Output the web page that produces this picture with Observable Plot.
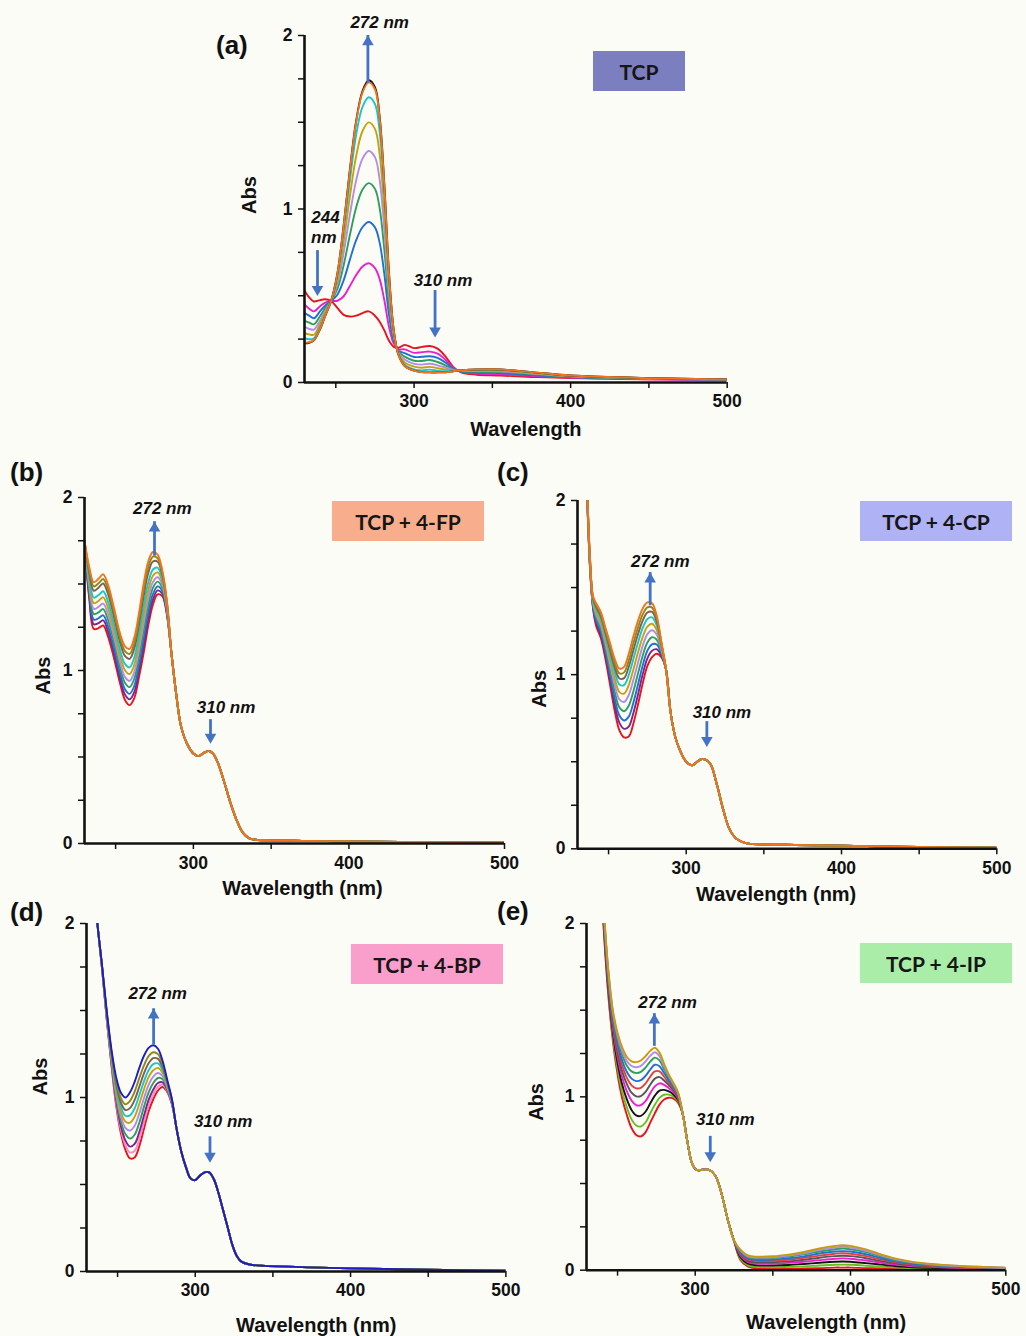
<!DOCTYPE html>
<html><head><meta charset="utf-8">
<script src="https://cdn.jsdelivr.net/npm/d3@7"></script>
<script src="https://cdn.jsdelivr.net/npm/@observablehq/plot@0.6"></script>
<style>
html,body{margin:0;padding:0;background:#fcfcf7;}
#page{position:relative;width:1026px;height:1336px;background:#fcfcf7;overflow:hidden;font-family:"Liberation Sans",Arial,sans-serif;}
#page svg{position:absolute;}
.plabel{position:absolute;font-weight:bold;font-size:26px;line-height:26px;color:#111;}
.box{position:absolute;display:flex;align-items:center;justify-content:center;font-family:Lato,"Open Sans",sans-serif;font-weight:700;font-size:21px;color:#161616;}
</style></head><body><div id="page"></div>
<script>
// ---------- axes ----------
const xTicks = [250, 300, 350, 400, 450, 500];
const xTickLabels = [300, 400, 500];
const yTicks = [0, 0.25, 0.5, 0.75, 1, 1.25, 1.5, 1.75, 2];
const yTickLabels = [0, 1, 2];

// ---------- panel (a) TCP ----------
const wlA = [230,233,236,240,243,247,251,255,259,263,267,271,275,278,281,284,287,290,294,300,305,310,315,320,325,330,340,355,375,400,450,500];
const aRed      = [0.53,0.49,0.467,0.475,0.48,0.47,0.43,0.39,0.38,0.385,0.40,0.41,0.385,0.35,0.30,0.24,0.205,0.20,0.217,0.198,0.205,0.21,0.195,0.15,0.09,0.058,0.045,0.04,0.032,0.025,0.018,0.015];
const aMagenta  = [0.45,0.425,0.41,0.44,0.459,0.47,0.471,0.497,0.556,0.619,0.667,0.687,0.659,0.596,0.474,0.32,0.225,0.192,0.191,0.171,0.175,0.178,0.166,0.131,0.085,0.061,0.051,0.047,0.038,0.028,0.019,0.016];
const aBlue     = [0.40,0.385,0.37,0.411,0.441,0.47,0.506,0.589,0.708,0.82,0.895,0.925,0.894,0.806,0.624,0.388,0.242,0.184,0.169,0.147,0.148,0.151,0.142,0.115,0.08,0.063,0.057,0.054,0.043,0.031,0.021,0.016];
const aGreen    = [0.355,0.345,0.335,0.383,0.424,0.47,0.539,0.676,0.85,1.009,1.111,1.149,1.116,1.005,0.765,0.453,0.258,0.178,0.149,0.125,0.124,0.13,0.118,0.099,0.076,0.065,0.062,0.06,0.048,0.033,0.022,0.017];
const aLavender = [0.32,0.309,0.305,0.359,0.41,0.47,0.567,0.747,0.968,1.165,1.289,1.334,1.299,1.169,0.881,0.506,0.272,0.172,0.132,0.107,0.103,0.108,0.099,0.086,0.072,0.066,0.066,0.065,0.052,0.036,0.023,0.017];
const aGold     = [0.285,0.277,0.275,0.339,0.397,0.47,0.591,0.811,1.073,1.305,1.448,1.499,1.462,1.315,0.985,0.554,0.283,0.167,0.116,0.091,0.085,0.09,0.082,0.075,0.069,0.068,0.07,0.069,0.055,0.037,0.024,0.018];
const aCyan     = [0.255,0.249,0.255,0.321,0.386,0.47,0.612,0.867,1.165,1.428,1.587,1.644,1.605,1.444,1.076,0.595,0.294,0.163,0.103,0.076,0.07,0.074,0.067,0.065,0.067,0.069,0.073,0.073,0.058,0.039,0.025,0.018];
const aBlack    = [0.226,0.229,0.243,0.308,0.378,0.47,0.628,0.905,1.228,1.508,1.678,1.742,1.702,1.532,1.142,0.63,0.303,0.16,0.095,0.068,0.06,0.058,0.058,0.059,0.065,0.07,0.075,0.075,0.06,0.04,0.025,0.018];
const aOrange   = [0.23,0.232,0.245,0.31,0.38,0.47,0.625,0.90,1.22,1.50,1.67,1.73,1.69,1.52,1.13,0.62,0.30,0.16,0.095,0.068,0.06,0.058,0.058,0.059,0.065,0.07,0.075,0.075,0.06,0.04,0.025,0.018];

// ---------- panel (b) TCP + 4-FP ----------
const wlBHead = [230,233,236,239,242,245,249,253,256,259,262,265,268,271,274,277,280,283];
const wlBTail = [286,289,292,296,300,303,307,310,313,316,320,324,328,332,336,340,350,370,400,450,500];
const bTail     = [1.09,0.86,0.68,0.575,0.52,0.505,0.525,0.535,0.515,0.46,0.35,0.23,0.13,0.06,0.03,0.022,0.018,0.015,0.012,0.008,0.005];
const bRed      = [1.75,1.42,1.24,1.245,1.26,1.20,1.07,0.92,0.83,0.80,0.84,0.96,1.10,1.26,1.38,1.44,1.43,1.32];
const bPurple   = [1.75,1.438,1.267,1.274,1.29,1.23,1.099,0.949,0.861,0.833,0.875,0.997,1.14,1.297,1.411,1.463,1.445,1.328];
const bBlue     = [1.75,1.456,1.294,1.302,1.319,1.26,1.128,0.978,0.892,0.865,0.91,1.034,1.18,1.334,1.441,1.486,1.46,1.336];
const bGreen    = [1.75,1.478,1.326,1.336,1.355,1.296,1.163,1.013,0.929,0.904,0.952,1.078,1.228,1.378,1.478,1.514,1.478,1.346];
const bLavender = [1.75,1.497,1.356,1.368,1.387,1.329,1.195,1.045,0.963,0.94,0.991,1.119,1.272,1.419,1.511,1.539,1.495,1.354];
const bGold     = [1.75,1.519,1.389,1.402,1.423,1.365,1.23,1.08,1.001,0.979,1.033,1.164,1.32,1.464,1.548,1.567,1.513,1.364];
const bCyan     = [1.75,1.541,1.421,1.436,1.458,1.401,1.264,1.114,1.038,1.018,1.075,1.208,1.368,1.508,1.584,1.594,1.53,1.374];
const bBrown    = [1.75,1.568,1.461,1.479,1.503,1.446,1.308,1.158,1.084,1.067,1.127,1.263,1.428,1.563,1.63,1.629,1.553,1.386];
const bOlive    = [1.75,1.584,1.486,1.504,1.529,1.473,1.334,1.184,1.112,1.096,1.159,1.297,1.464,1.597,1.658,1.649,1.567,1.393];
const bOrange   = [1.75,1.60,1.51,1.53,1.556,1.50,1.36,1.21,1.14,1.125,1.19,1.33,1.50,1.63,1.685,1.67,1.58,1.40];

// ---------- panel (c) TCP + 4-CP ----------
const wlCHead = [234,236,238,240,242,245,248,251,254,257,260,263,266,269,272,275,278,281,284,287];
const wlCTail = [290,293,296,300,304,307,310,313,316,320,324,328,332,336,340,350,370,400,450,500];
const cTail     = [0.78,0.64,0.565,0.50,0.48,0.50,0.515,0.51,0.48,0.36,0.22,0.11,0.06,0.04,0.03,0.025,0.022,0.018,0.01,0.006];
const cRed      = [2.40,2.05,1.62,1.38,1.28,1.21,1.09,0.94,0.79,0.68,0.64,0.645,0.72,0.83,0.95,1.05,1.10,1.12,1.10,1.03];
const cPurple   = [2.40,2.056,1.627,1.388,1.296,1.228,1.112,0.969,0.826,0.723,0.689,0.702,0.78,0.888,1.002,1.094,1.137,1.146,1.111,1.03];
const cBlue     = [2.40,2.062,1.634,1.397,1.311,1.246,1.133,0.998,0.862,0.765,0.737,0.759,0.84,0.945,1.053,1.138,1.174,1.173,1.122,1.03];
const cGreen    = [2.40,2.069,1.642,1.406,1.328,1.266,1.157,1.029,0.901,0.811,0.79,0.821,0.905,1.008,1.109,1.185,1.215,1.201,1.133,1.03];
const cLavender = [2.40,2.075,1.65,1.415,1.345,1.285,1.18,1.06,0.94,0.858,0.843,0.883,0.97,1.07,1.165,1.233,1.255,1.23,1.145,1.03];
const cGold     = [2.40,2.081,1.657,1.423,1.361,1.303,1.202,1.089,0.976,0.90,0.891,0.94,1.03,1.128,1.217,1.276,1.292,1.256,1.156,1.03];
const cCyan     = [2.40,2.087,1.664,1.432,1.376,1.321,1.223,1.118,1.012,0.943,0.94,0.997,1.09,1.185,1.268,1.32,1.329,1.283,1.167,1.03];
const cBrown    = [2.40,2.092,1.67,1.439,1.389,1.336,1.241,1.142,1.042,0.978,0.98,1.044,1.14,1.233,1.311,1.357,1.36,1.305,1.176,1.03];
const cOlive    = [2.40,2.096,1.675,1.444,1.40,1.348,1.256,1.161,1.066,1.007,1.013,1.082,1.18,1.272,1.346,1.386,1.385,1.322,1.183,1.03];
const cOrange   = [2.40,2.10,1.68,1.45,1.41,1.36,1.27,1.18,1.09,1.035,1.045,1.12,1.22,1.31,1.38,1.415,1.41,1.34,1.19,1.03];

// ---------- panel (d) TCP + 4-BP ----------
const wlDHead = [234,237,240,243,246,249,252,255,258,261,264,267,270,273,276,279,282,285];
const wlDTail = [288,291,294,297,300,303,306,309,312,315,318,321,324,327,330,335,345,360,380,400,450,500];
const dTail     = [0.82,0.69,0.60,0.535,0.525,0.55,0.57,0.57,0.53,0.45,0.35,0.25,0.15,0.085,0.055,0.04,0.032,0.028,0.022,0.018,0.01,0.005];
const dRed      = [2.30,2.00,1.74,1.45,1.19,0.96,0.80,0.70,0.65,0.655,0.72,0.82,0.92,0.99,1.04,1.06,1.03,0.96];
const dPink     = [2.30,2.00,1.742,1.455,1.198,0.974,0.821,0.727,0.684,0.694,0.761,0.858,0.953,1.018,1.062,1.074,1.036,0.963];
const dPurple   = [2.30,2.00,1.744,1.459,1.206,0.989,0.841,0.754,0.718,0.733,0.801,0.896,0.986,1.046,1.083,1.087,1.043,0.965];
const dGreen    = [2.30,2.00,1.746,1.465,1.217,1.008,0.869,0.79,0.764,0.786,0.855,0.946,1.03,1.083,1.112,1.105,1.051,0.969];
const dLavender = [2.30,2.00,1.748,1.471,1.228,1.027,0.897,0.826,0.81,0.838,0.909,0.996,1.073,1.12,1.141,1.123,1.059,0.973];
const dGold     = [2.30,2.00,1.751,1.477,1.239,1.046,0.924,0.862,0.855,0.89,0.963,1.047,1.117,1.157,1.17,1.141,1.068,0.976];
const dCyan     = [2.30,2.00,1.753,1.483,1.249,1.064,0.95,0.895,0.897,0.938,1.013,1.093,1.157,1.192,1.196,1.158,1.076,0.98];
const dBrown    = [2.30,2.00,1.755,1.488,1.258,1.082,0.975,0.928,0.939,0.986,1.062,1.139,1.197,1.226,1.222,1.174,1.083,0.983];
const dOlive    = [2.30,2.00,1.757,1.494,1.268,1.099,1.0,0.961,0.981,1.034,1.112,1.185,1.238,1.26,1.249,1.191,1.091,0.986];
const dNavy     = [2.30,2.00,1.76,1.50,1.28,1.12,1.03,1.00,1.03,1.09,1.17,1.24,1.285,1.30,1.28,1.21,1.10,0.99];

// ---------- panel (e) TCP + 4-IP ----------
const wlEHead = [238,241,244,247,250,253,256,259,262,265,268,271,274,277,280,283,286,289,292];
const wlEMid  = [295,298,301,305,309,313,317,321,325];
const wlETail = [329,334,340,350,360,370,380,390,395,400,410,420,430,440,450,470,500];
const eMid = [0.74,0.615,0.578,0.58,0.578,0.545,0.44,0.29,0.17];
const eRedH      = [2.50,1.98,1.59,1.32,1.13,0.99,0.895,0.82,0.78,0.772,0.795,0.85,0.905,0.955,0.985,0.995,0.99,0.965,0.90];
const eLimeH     = [2.507,1.996,1.61,1.343,1.161,1.028,0.939,0.87,0.835,0.829,0.852,0.904,0.954,0.994,1.012,1.013,1.002,0.973,0.90];
const eBlackH    = [2.514,2.012,1.631,1.369,1.195,1.07,0.985,0.924,0.893,0.89,0.914,0.962,1.007,1.036,1.04,1.031,1.014,0.981,0.90];
const eMagentaH  = [2.52,2.029,1.652,1.394,1.228,1.111,1.032,0.978,0.952,0.952,0.975,1.02,1.06,1.078,1.069,1.05,1.027,0.99,0.90];
const eGrayH     = [2.527,2.044,1.67,1.415,1.257,1.146,1.073,1.024,1.003,1.004,1.028,1.07,1.105,1.114,1.094,1.067,1.038,0.997,0.90];
const eRed2H     = [2.532,2.057,1.686,1.435,1.284,1.179,1.109,1.066,1.049,1.052,1.077,1.116,1.147,1.147,1.116,1.081,1.048,1.003,0.90];
const eBlueH     = [2.537,2.069,1.701,1.453,1.308,1.208,1.143,1.105,1.091,1.096,1.121,1.157,1.185,1.177,1.137,1.095,1.057,1.009,0.90];
const eGreenH    = [2.543,2.082,1.718,1.473,1.334,1.241,1.18,1.147,1.137,1.144,1.169,1.203,1.226,1.21,1.159,1.11,1.067,1.016,0.90];
const eLavenderH = [2.547,2.092,1.73,1.487,1.353,1.264,1.207,1.178,1.171,1.179,1.204,1.236,1.257,1.234,1.176,1.121,1.074,1.021,0.90];
const eGoldH     = [2.55,2.10,1.74,1.50,1.37,1.285,1.23,1.205,1.20,1.21,1.235,1.265,1.283,1.255,1.19,1.13,1.08,1.025,0.90];
const eRedT      = [0.06,0.02,0.01,0.008,0.008,0.01,0.012,0.015,0.015,0.015,0.012,0.01,0.008,0.006,0.005,0.004,0.003];
const eLimeT     = [0.068,0.028,0.019,0.017,0.019,0.022,0.027,0.031,0.032,0.031,0.026,0.02,0.015,0.011,0.009,0.007,0.005];
const eBlackT    = [0.076,0.038,0.028,0.027,0.03,0.036,0.043,0.049,0.05,0.049,0.041,0.032,0.023,0.017,0.014,0.01,0.006];
const eMagentaT  = [0.085,0.047,0.038,0.038,0.042,0.049,0.058,0.066,0.068,0.066,0.056,0.043,0.031,0.023,0.019,0.013,0.008];
const eGrayT     = [0.092,0.054,0.046,0.046,0.051,0.06,0.072,0.081,0.083,0.081,0.069,0.052,0.038,0.028,0.022,0.015,0.009];
const eRed2T     = [0.098,0.062,0.054,0.054,0.06,0.071,0.084,0.095,0.098,0.095,0.081,0.061,0.044,0.033,0.026,0.017,0.011];
const eBlueT     = [0.104,0.068,0.06,0.061,0.069,0.08,0.096,0.108,0.11,0.108,0.092,0.069,0.05,0.037,0.029,0.02,0.012];
const eGreenT    = [0.111,0.075,0.068,0.069,0.078,0.091,0.108,0.121,0.125,0.121,0.104,0.078,0.056,0.042,0.033,0.022,0.013];
const eLavenderT = [0.116,0.08,0.073,0.075,0.084,0.098,0.117,0.131,0.135,0.131,0.112,0.084,0.061,0.045,0.036,0.024,0.014];
const eGoldT     = [0.12,0.085,0.078,0.08,0.09,0.105,0.125,0.14,0.144,0.14,0.12,0.09,0.065,0.048,0.038,0.025,0.015];

// ---------- text ----------
const panelLetters = ["(a)", "(b)", "(c)", "(d)", "(e)"];
const boxLabels = ["TCP", "TCP + 4-FP", "TCP + 4-CP", "TCP + 4-BP", "TCP + 4-IP"];

// ---------- styles ----------
const COL = {red:"#e8141c", magenta:"#ec1fd0", blue:"#1f6fd6", green:"#2e9e5c", lavender:"#b38be8",
  gold:"#c9a00c", cyan:"#18c8c8", black:"#141414", orange:"#f3731f", purple:"#7b2590", brown:"#7d5f56",
  olive:"#8d8a14", pink:"#ff88c8", navy:"#1c1cc4", lime:"#66c01a", gray:"#555555", red2:"#ea3c3c", goldE:"#c89a12"};
const ARROW = "#4472c4";

function rows(wl, vals) { return wl.map((w, i) => ({wl: w, v: vals[i]})); }
function joined(parts) { return parts.flatMap(([wl, vals]) => rows(wl, vals)); }

const panels = [
  {frame:[304.3,34.7,727,381.7], xTitle:"Wavelength", tdx:10, tdy:54, adx:-55, ady:5,
   series:[[aRed,COL.red],[aMagenta,COL.magenta],[aBlue,COL.blue],[aGreen,COL.green],[aLavender,COL.lavender],
           [aGold,COL.gold],[aCyan,COL.cyan],[aBlack,COL.black],[aOrange,COL.orange]].map(([v,c]) => ({data: rows(wlA, v), color: c})),
   arrows:[{x:270.5,y1:1.76,y2:2.0},{x:238.3,y1:0.76,y2:0.50},{x:313.4,y1:0.53,y2:0.26}],
   notes:[{x:278,y:2.073,t:"272 nm"},{x:243.4,y:0.951,t:"244"},{x:242.3,y:0.836,t:"nm"},{x:318.5,y:0.586,t:"310 nm"}],
   letter:[216,32], box:[593,51,92,40,"#7b7fbf"]},
  {frame:[84,497.3,504,843.3], xTitle:"Wavelength (nm)", tdx:8, tdy:51, adx:-41, ady:24,
   series:[[bRed,COL.red],[bPurple,COL.purple],[bBlue,COL.blue],[bGreen,COL.green],[bLavender,COL.lavender],[bGold,COL.gold],
           [bCyan,COL.cyan],[bBrown,COL.brown],[bOlive,COL.olive],[bOrange,COL.orange]].map(([v,c]) => ({data: joined([[wlBHead,v],[wlBTail,bTail]]), color: c})),
   arrows:[{x:275,y1:1.695,y2:1.86},{x:311,y1:0.716,y2:0.578}],
   notes:[{x:280,y:1.936,t:"272 nm"},{x:321,y:0.786,t:"310 nm"}],
   letter:[10,459], box:[332,501,152,40,"#f8ae8c"]},
  {frame:[577.3,500,996.6,848.3], xTitle:"Wavelength (nm)", tdx:-11, tdy:52, adx:-38, ady:33,
   series:[[cRed,COL.red],[cPurple,COL.purple],[cBlue,COL.blue],[cGreen,COL.green],[cLavender,COL.lavender],[cGold,COL.gold],
           [cCyan,COL.cyan],[cBrown,COL.brown],[cOlive,COL.olive],[cOrange,COL.orange]].map(([v,c]) => ({data: joined([[wlCHead,v],[wlCTail,cTail]]), color: c})),
   arrows:[{x:276.8,y1:1.43,y2:1.586},{x:313.3,y1:0.73,y2:0.585}],
   notes:[{x:283.3,y:1.65,t:"272 nm"},{x:323,y:0.78,t:"310 nm"}],
   letter:[497,459], box:[860,501,152,40,"#b0b2f6"]},
  {frame:[85.6,922.7,505,1270.7], xTitle:"Wavelength (nm)", tdx:20, tdy:61, adx:-46, ady:-2,
   series:[[dRed,COL.red],[dPink,COL.pink],[dPurple,COL.purple],[dGreen,COL.green],[dLavender,COL.lavender],[dGold,COL.gold],
           [dCyan,COL.cyan],[dBrown,COL.brown],[dOlive,COL.olive],[dNavy,COL.navy]].map(([v,c]) => ({data: joined([[wlDHead,v],[wlDTail,dTail]]), color: c})),
   arrows:[{x:273.2,y1:1.336,y2:1.51},{x:309.5,y1:0.774,y2:0.626}],
   notes:[{x:275.8,y:1.60,t:"272 nm"},{x:318,y:0.86,t:"310 nm"}],
   letter:[10,899], box:[351,944,152,40,"#fa9ecb"]},
  {frame:[586.2,923.3,1005.5,1270], xTitle:"Wavelength (nm)", tdx:30, tdy:59, adx:-50, ady:24,
   series:[[eRedH,eRedT,COL.red],[eLimeH,eLimeT,COL.lime],[eBlackH,eBlackT,COL.black],[eMagentaH,eMagentaT,COL.magenta],
           [eGrayH,eGrayT,COL.gray],[eRed2H,eRed2T,COL.red2],[eBlueH,eBlueT,COL.blue],[eGreenH,eGreenT,COL.green],
           [eLavenderH,eLavenderT,COL.lavender],[eGoldH,eGoldT,COL.goldE]].map(([h,t,c]) => ({data: joined([[wlEHead,h],[wlEMid,eMid],[wlETail,t]]), color: c})),
   arrows:[{x:273.7,y1:1.326,y2:1.48},{x:309.7,y1:0.772,y2:0.624}],
   notes:[{x:282.2,y:1.546,t:"272 nm"},{x:319.4,y:0.87,t:"310 nm"}],
   letter:[497,898], box:[860,943,152,40,"#a9eda9"]}
];

const page = document.getElementById("page");
const mL = 80, mR = 30, mT = 50, mB = 75;

panels.forEach((p, k) => {
  const [L, T, R, B] = p.frame;
  const marks = [];
  for (const s of p.series) {
    marks.push(Plot.line(s.data, {x: "wl", y: "v", stroke: s.color, strokeWidth: 1.9, curve: "catmull-rom", clip: true}));
  }
  marks.push(Plot.axisY(yTicks, {tickSize: 6, strokeWidth: 1.5, label: null, tickFormat: () => ""}));
  marks.push(Plot.axisX(xTicks, {tickSize: 6, strokeWidth: 1.5, label: null, tickFormat: () => ""}));
  marks.push(Plot.text(xTickLabels, {x: d => d, frameAnchor: "bottom", dy: 25, fontSize: 17.5, fontWeight: "bold"}));
  marks.push(Plot.text(yTickLabels, {y: d => d, frameAnchor: "left", dx: -12, textAnchor: "end", fontSize: 17.5, fontWeight: "bold"}));
  marks.push(Plot.ruleX([230], {strokeWidth: 2.6, stroke: "#111"}));
  marks.push(Plot.ruleY([0], {strokeWidth: 2.6, stroke: "#111"}));
  marks.push(Plot.text([p.xTitle], {frameAnchor: "bottom", dx: p.tdx, dy: p.tdy, fontSize: 20, fontWeight: "bold"}));
  marks.push(Plot.text(["Abs"], {frameAnchor: "left", rotate: -90, dx: p.adx, dy: p.ady, fontSize: 20, fontWeight: "bold"}));
  const up = p.arrows.filter(a => a.y2 > a.y1), down = p.arrows.filter(a => a.y2 < a.y1);
  marks.push(Plot.ruleX(up, {x: "x", y1: "y1", y2: "y2", stroke: ARROW, strokeWidth: 2.8, insetTop: 6}));
  marks.push(Plot.ruleX(down, {x: "x", y1: "y1", y2: "y2", stroke: ARROW, strokeWidth: 2.8, insetBottom: 6}));
  marks.push(Plot.dot(up, {x: "x", y: "y2", symbol: "triangle", r: 4.3, fill: ARROW, stroke: null, dy: 6.5}));
  marks.push(Plot.dot(down, {x: "x", y: "y2", symbol: "triangle", r: 4.3, fill: ARROW, stroke: null, rotate: 180, dy: -6.5}));
  marks.push(Plot.text(p.notes, {x: "x", y: "y", text: "t", fontSize: 17, fontStyle: "italic", fontWeight: "bold", fill: "#111"}));

  const svg = Plot.plot({
    width: (R - L) + mL + mR, height: (B - T) + mT + mB,
    marginLeft: mL, marginRight: mR, marginTop: mT, marginBottom: mB,
    x: {domain: [230, 500]}, y: {domain: [0, 2]},
    style: {background: "transparent", overflow: "visible", fontFamily: "'Liberation Sans', Arial, sans-serif", fontWeight: "bold", color: "#111"},
    marks
  });
  svg.style.left = (L - mL) + "px";
  svg.style.top = (T - mT) + "px";
  page.appendChild(svg);

  const lab = document.createElement("div");
  lab.className = "plabel";
  lab.textContent = panelLetters[k];
  lab.style.left = p.letter[0] + "px"; lab.style.top = p.letter[1] + "px";
  page.appendChild(lab);

  const [bx, by, bw, bh, bc] = p.box;
  const box = document.createElement("div");
  box.className = "box";
  box.textContent = boxLabels[k];
  Object.assign(box.style, {left: bx + "px", top: by + "px", width: bw + "px", height: bh + "px", background: bc});
  page.appendChild(box);
});
</script></body></html>
